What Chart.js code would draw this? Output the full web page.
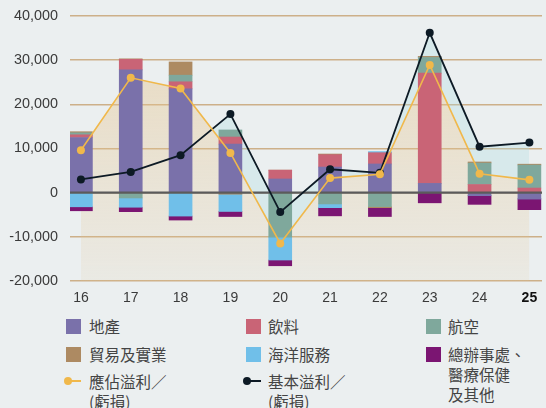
<!DOCTYPE html>
<html>
<head>
<meta charset="utf-8">
<script src="https://cdn.jsdelivr.net/npm/chart.js@4"></script>
<style>
  html, body { margin: 0; padding: 0; background: #ebeff0; }
  #wrap { position: relative; width: 546px; height: 408px; overflow: hidden; }
  #chart { position: absolute; left: 0; top: 0; }
  .item { position: absolute; font-family: "Noto Sans CJK TC", "Noto Sans", sans-serif; font-size: 15.5px; line-height: 20px; color: #444; }
  .sq { position: absolute; width: 15px; height: 15px; }
  .txt { position: absolute; white-space: nowrap; }
  .ln { position: absolute; height: 2px; width: 12px; }
  .dot { position: absolute; width: 8px; height: 8px; border-radius: 50%; }
</style>
</head>
<body>
<div id="wrap">
  <canvas id="chart" width="546" height="310"></canvas>

  <div class="item"><div class="sq" style="left:66px;top:319px;background:#7a71aa"></div><div class="txt" style="left:89px;top:316px">地產</div></div>
  <div class="item"><div class="sq" style="left:246px;top:319px;background:#c96476"></div><div class="txt" style="left:268px;top:316px">飲料</div></div>
  <div class="item"><div class="sq" style="left:426px;top:319px;background:#7fa89c"></div><div class="txt" style="left:448px;top:316px">航空</div></div>

  <div class="item"><div class="sq" style="left:66px;top:347px;background:#ad8a62"></div><div class="txt" style="left:89px;top:344px">貿易及實業</div></div>
  <div class="item"><div class="sq" style="left:246px;top:347px;background:#70bfe9"></div><div class="txt" style="left:268px;top:344px">海洋服務</div></div>
  <div class="item"><div class="sq" style="left:426px;top:347px;background:#7b1572"></div><div class="txt" style="left:448px;top:344px">總辦事處、<br>醫療保健<br>及其他</div></div>

  <div class="item"><div class="dot" style="left:64px;top:377px;background:#f0b84b"></div><div class="ln" style="left:69px;top:380px;background:#f0b84b"></div><div class="txt" style="left:89px;top:371px">應佔溢利／<br>(虧損)</div></div>
  <div class="item"><div class="dot" style="left:243px;top:377px;background:#0d1a25"></div><div class="ln" style="left:249px;top:380px;background:#0d1a25"></div><div class="txt" style="left:268px;top:371px">基本溢利／<br>(虧損)</div></div>
</div>

<script>
// years (20xx)
const years = ['16', '17', '18', '19', '20', '21', '22', '23', '24', '25'];

// segment results, HK$M
const property  = [12500, 27800, 23500, 11000, 3100, 5800, 6500, 2100, -650, -1400];
const beverages = [600, 2400, 1600, 1600, 2000, 2800, 2550, 24950, 1850, 1050];
const aviation  = [450, -1200, 1500, 1600, -10050, -2550, -3150, 3550, 4850, 5200];
const trading   = [250, 100, 3000, -350, 0, 150, -250, 250, 250, 200];
const marine    = [-3200, -2100, -5300, -3900, -5200, -850, 250, 0, 0, 0];
const headOffice = [-900, -1000, -900, -1150, -1300, -1850, -2000, -2300, -2000, -2450];

const attributable = [9600, 26000, 23600, 9000, -11500, 3300, 4150, 28900, 4300, 2900];
const underlying   = [3000, 4700, 8500, 17800, -4400, 5300, 4500, 36200, 10400, 11350];

const yTicks = [-20000, -10000, 0, 10000, 20000, 30000, 40000];

const pts = arr => arr.map((v, i) => ({ x: i, y: v }));

function bar(data, color) {
    return {
        type: 'bar',
        data: pts(data),
        backgroundColor: color,
        barThickness: 23,
        borderWidth: 0,
        order: 1
    };
}

function grad(ctx, rgb, a1, a2) {
    const chart = ctx.chart;
    const area = chart.chartArea;
    if (!area) return 'rgba(' + rgb + ',' + a2 + ')';
    const g = chart.ctx.createLinearGradient(0, area.top, 0, area.bottom);
    g.addColorStop(0, 'rgba(' + rgb + ',' + a1 + ')');
    g.addColorStop(1, 'rgba(' + rgb + ',' + a2 + ')');
    return g;
}

// zero line drawn over bars but under the profit lines
const zeroLine = {
    id: 'zeroLine',
    beforeDatasetDraw(chart, args) {
        if (args.index !== 7) return;
        const y = chart.scales.y.getPixelForValue(0);
        const c = chart.ctx;
        c.save();
        c.strokeStyle = '#5b5b5b';
        c.lineWidth = 2.2;
        c.beginPath();
        c.moveTo(chart.chartArea.left, y);
        c.lineTo(chart.chartArea.right, y);
        c.stroke();
        c.restore();
    }
};

new Chart(document.getElementById('chart'), {
    type: 'bar',
    data: {
        datasets: [
            bar(property, '#7a71aa'),
            bar(beverages, '#c96476'),
            bar(aviation, '#7fa89c'),
            bar(trading, '#ad8a62'),
            bar(marine, '#70bfe9'),
            bar(headOffice, '#7b1572'),
            {
                type: 'line',
                data: pts(attributable),
                stack: 'attr',
                order: 0,
                borderColor: '#f0b84b',
                borderWidth: 1.6,
                pointRadius: 4,
                pointBackgroundColor: '#f0b84b',
                pointBorderWidth: 0,
                fill: 'start',
                backgroundColor: ctx => grad(ctx, '230,196,140', 0.5, 0.12)
            },
            {
                type: 'line',
                data: pts(underlying),
                stack: 'under',
                order: 0,
                borderColor: '#0d1a25',
                borderWidth: 1.8,
                pointRadius: 4,
                pointBackgroundColor: '#0d1a25',
                pointBorderWidth: 0,
                fill: { target: 6, above: 'rgba(170,218,226,0.3)', below: 'rgba(0,0,0,0)' }
            }
        ]
    },
    plugins: [zeroLine],
    options: {
        responsive: false,
        animation: false,
        layout: { padding: { top: 16, right: 0, left: 0, bottom: 0 } },
        plugins: {
            legend: { display: false },
            tooltip: { enabled: false },
            filler: { drawTime: 'beforeDatasetsDraw' }
        },
        scales: {
            x: {
                type: 'linear',
                min: -0.219,
                max: 9.253,
                offset: false,
                stacked: true,
                grid: { display: false, drawTicks: false, offset: false },
                border: { display: false },
                afterBuildTicks: scale => { scale.ticks = years.map((_, i) => ({ value: i })); },
                afterFit: scale => { scale.height = 29; scale.paddingLeft = 0; scale.paddingRight = 0; },
                ticks: {
                    padding: 9,
                    color: ctx => ctx.tick && ctx.tick.value === 9 ? '#111' : '#3a3a3a',
                    font: ctx => ({
                        family: "'Liberation Sans', Arial, sans-serif",
                        size: 14,
                        weight: ctx.tick && ctx.tick.value === 9 ? 'bold' : 'normal'
                    }),
                    callback: v => years[v]
                }
            },
            y: {
                stacked: true,
                min: -20000,
                max: 40000,
                afterBuildTicks: scale => { scale.ticks = yTicks.map(v => ({ value: v })); },
                afterFit: scale => { scale.width = 70; scale.paddingTop = 0; scale.paddingBottom = 0; },
                grid: { color: '#cdb089', lineWidth: 1.4, drawTicks: false },
                border: { display: false },
                ticks: {
                    padding: 12,
                    color: '#3a3a3a',
                    font: { family: "'Liberation Sans', Arial, sans-serif", size: 14.4 },
                    callback: v => v.toLocaleString('en-US')
                }
            }
        }
    }
});
</script>
</body>
</html>
